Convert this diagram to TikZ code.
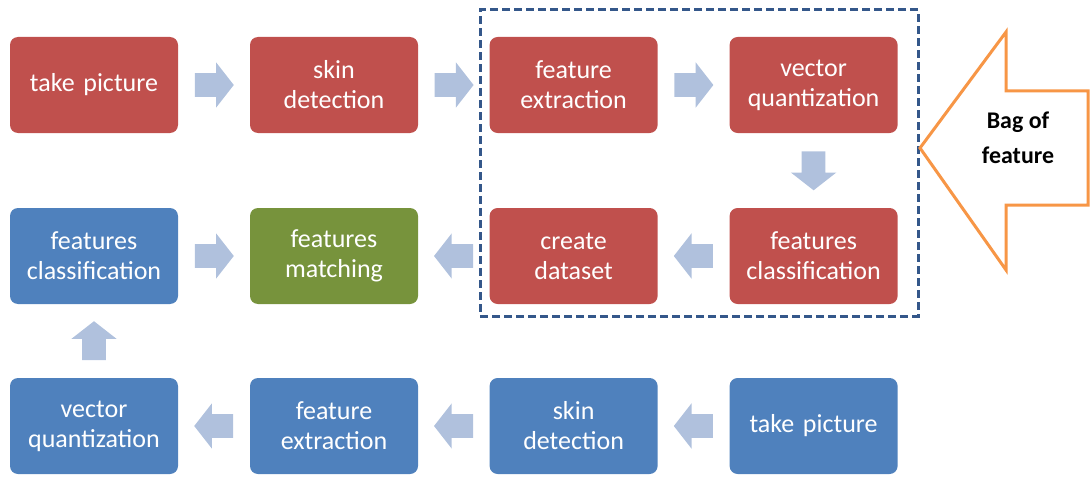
\documentclass[tikz,border=0pt]{standalone}
\usepackage{fontspec}
\setmainfont{Carlito}
\usetikzlibrary{shapes.arrows,calc}

\definecolor{boxred}{HTML}{C0504D}
\definecolor{boxblue}{HTML}{4F81BD}
\definecolor{boxgreen}{HTML}{77933C}
\definecolor{flowgray}{HTML}{B0C1DD}
\definecolor{bagline}{HTML}{34578A}
\definecolor{bagorange}{HTML}{F79646}

\begin{document}
\begin{tikzpicture}[
  every node/.style={font=\fontsize{18.5}{21.3}\selectfont},
  stepbox/.style={rectangle, rounded corners=0.2cm, minimum width=4.2cm,
    minimum height=2.4cm, text width=4cm, align=center, text=white,
    inner sep=0pt},
  redbox/.style={stepbox, fill=boxred},
  bluebox/.style={stepbox, fill=boxblue},
  greenbox/.style={stepbox, fill=boxgreen},
  flow/.style={single arrow, fill=flowgray, inner xsep=0pt, inner ysep=0.29cm,
    minimum height=0.975cm, single arrow head extend=0.27cm,
    single arrow tip angle=104, anchor=tail},
  bagframe/.style={rectangle, draw=bagline, line width=0.075cm, dashed,
    dash pattern=on 0.2cm off 0.1cm, minimum width=10.95cm,
    minimum height=7.65cm},
  baglabel/.style={font=\fontsize{17}{25}\selectfont\bfseries, align=center},
]
\useasboundingbox (0,0) rectangle (27.275,-11.925);

% Bag of feature frame
\node[bagframe] (bag) at (17.475,-4.075) {};

% Top row
\node[redbox] (take1) at (2.35,-2.125) {take picture};
\node[redbox] (skin1) at (8.35,-2.125) {skin\\detection};
\node[redbox] (extract1) at (14.34,-2.125) {feature\\extraction};
\node[redbox] (quant1) at (20.34,-2.125) {vector\\quantization};

% Middle row
\node[bluebox] (classify2) at (2.35,-6.4) {features\\classification};
\node[greenbox] (match) at (8.35,-6.4) {features\\matching};
\node[redbox] (dataset) at (14.34,-6.4) {create\\dataset};
\node[redbox] (classify1) at (20.34,-6.4) {features\\classification};

% Bottom row
\node[bluebox] (quant2) at (2.35,-10.65) {vector\\quantization};
\node[bluebox] (extract2) at (8.35,-10.65) {feature\\extraction};
\node[bluebox] (skin2) at (14.34,-10.65) {skin\\detection};
\node[bluebox] (take2) at (20.34,-10.65) {take picture};

% Flow arrows (tail placed half a length before the gap's middle)
\node[flow] at ($($(take1.east)!0.5!(skin1.west)$)!0.4875cm!(take1.east)$) {};
\node[flow] at ($($(skin1.east)!0.5!(extract1.west)$)!0.4875cm!(skin1.east)$) {};
\node[flow] at ($($(extract1.east)!0.5!(quant1.west)$)!0.4875cm!(extract1.east)$) {};
\node[flow, rotate=-90] at ($($(quant1.south)!0.5!(classify1.north)$)!0.4875cm!(quant1.south)$) {};
\node[flow, rotate=180] at ($($(classify1.west)!0.5!(dataset.east)$)!0.4875cm!(classify1.west)$) {};
\node[flow, rotate=180] at ($($(dataset.west)!0.5!(match.east)$)!0.4875cm!(dataset.west)$) {};
\node[flow] at ($($(classify2.east)!0.5!(match.west)$)!0.4875cm!(classify2.east)$) {};
\node[flow, rotate=90] at ($($(quant2.north)!0.5!(classify2.south)$)!0.4875cm!(quant2.north)$) {};
\node[flow, rotate=180] at ($($(extract2.west)!0.5!(quant2.east)$)!0.4875cm!(extract2.west)$) {};
\node[flow, rotate=180] at ($($(skin2.west)!0.5!(extract2.east)$)!0.4875cm!(skin2.west)$) {};
\node[flow, rotate=180] at ($($(take2.west)!0.5!(skin2.east)$)!0.4875cm!(take2.west)$) {};

% Bag of feature arrow
\draw[bagorange, line width=0.075cm, fill=white, line join=miter]
  (23.0,-3.7) -- (25.15,-0.8) -- (25.15,-2.275) -- (27.2,-2.275)
  -- (27.2,-5.125) -- (25.15,-5.125) -- (25.15,-6.75) -- cycle;
\node[baglabel] (bagtext) at (25.45,-3.45) {Bag of\\feature};

\end{tikzpicture}
\end{document}
